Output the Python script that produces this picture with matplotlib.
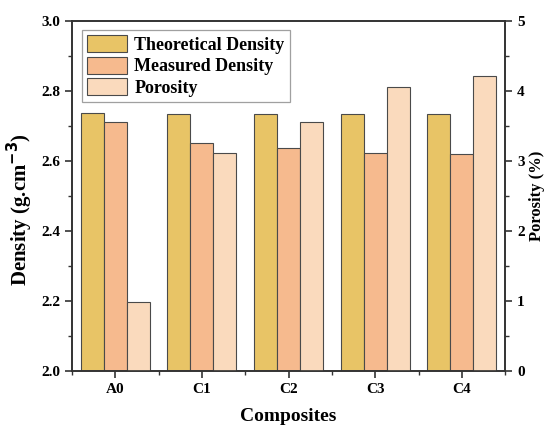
import matplotlib.pyplot as plt
import numpy as np
from matplotlib.ticker import MultipleLocator

# data
composites = ['A0', 'C1', 'C2', 'C3', 'C4']
theoretical = [2.737, 2.735, 2.735, 2.734, 2.733]
measured = [2.710, 2.650, 2.636, 2.622, 2.619]
porosity = [0.98, 3.12, 3.56, 4.05, 4.21]

plt.rcParams['font.family'] = ['Liberation Serif', 'DejaVu Serif']
plt.rcParams['font.weight'] = 'bold'

c_theo = '#E8C466'
c_meas = '#F6BA8E'
c_poro = '#FADABD'
edge = '#4a4a4a'

fig = plt.figure(figsize=(5.45, 4.25), dpi=100)
ax = fig.add_axes([0.132, 0.127, 0.795, 0.824])
ax2 = ax.twinx()

x = np.arange(len(composites))
w = 0.265

b1 = ax.bar(x - w, np.array(theoretical) - 2.0, w, bottom=2.0, color=c_theo,
            edgecolor=edge, linewidth=0.8, label='Theoretical Density')
b2 = ax.bar(x, np.array(measured) - 2.0, w, bottom=2.0, color=c_meas,
            edgecolor=edge, linewidth=0.8, label='Measured Density')
b3 = ax2.bar(x + w, porosity, w, color=c_poro, edgecolor=edge,
             linewidth=0.8, label='Porosity')

ax.set_xlim(-0.5, 4.5)
ax.set_ylim(2.0, 3.0)
ax2.set_ylim(0, 5)

ax.set_xticks(x)
ax.set_xticklabels(composites)
ax.xaxis.set_minor_locator(MultipleLocator(0.5))
ax.yaxis.set_major_locator(MultipleLocator(0.2))
ax.yaxis.set_minor_locator(MultipleLocator(0.1))
ax2.yaxis.set_major_locator(MultipleLocator(1))
ax2.yaxis.set_minor_locator(MultipleLocator(0.5))
ax.yaxis.set_major_formatter(plt.FormatStrFormatter('%.1f'))

for a in (ax, ax2):
    for s in a.spines.values():
        s.set_linewidth(1.2)
        s.set_color('#333333')
    a.tick_params(which='major', length=5, width=1.2, labelsize=11, colors='#333333', labelcolor='black')
    a.tick_params(which='minor', length=3, width=1.0, colors='#333333')
ax.tick_params(axis='x', which='both', top=False)
ax.tick_params(axis='y', which='both', right=False)

ax.set_xlabel('Composites', fontsize=14, fontweight='bold', labelpad=9)
ax.set_ylabel('Density (g.cm$^{\\mathbf{-3}}$)', fontsize=15, fontweight='bold')
ax.yaxis.set_label_coords(-0.085, 0.46)
ax2.set_ylabel('Porosity (%)', fontsize=12, fontweight='bold', rotation=90, va='bottom')
ax2.yaxis.set_label_coords(1.091, 0.5)

leg = ax.legend([b1, b2, b3], ['Theoretical Density', 'Measured Density', 'Porosity'],
                loc='upper left', bbox_to_anchor=(0.015, 0.985), fontsize=13,
                frameon=True, fancybox=False, edgecolor='#888888',
                handlelength=2.2, handleheight=1.1, labelspacing=0.15,
                borderpad=0.3, handletextpad=0.4, borderaxespad=0.2)
leg.get_frame().set_linewidth(0.9)

fig.savefig('out.png', dpi=100)
